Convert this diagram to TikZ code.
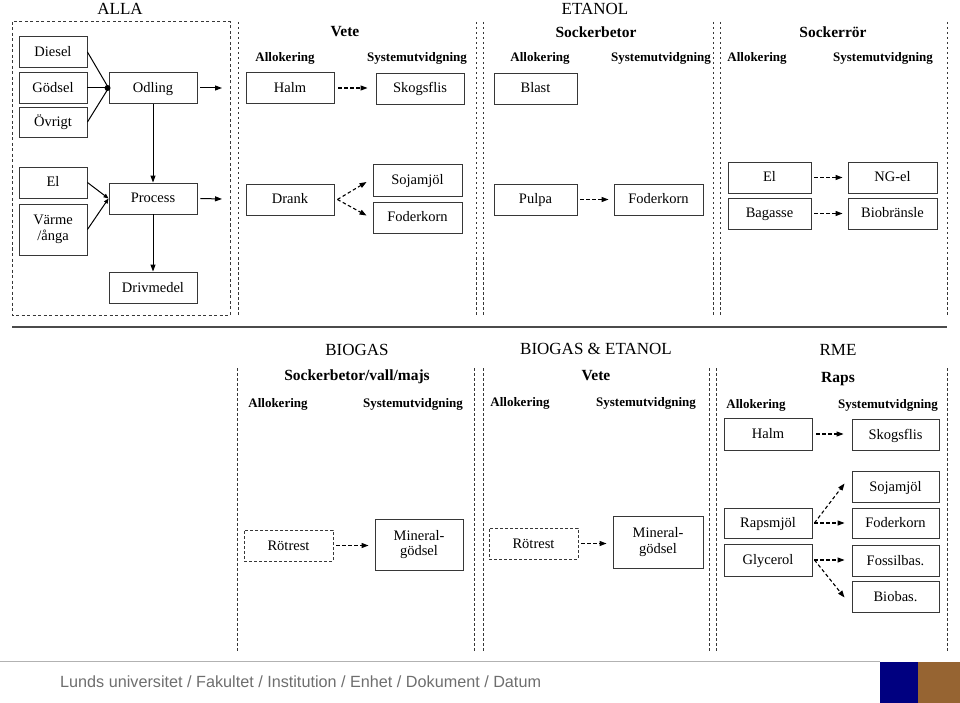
\documentclass[tikz,border=0pt]{standalone}
\usepackage{fontspec}
\setmainfont{Liberation Serif}
\newfontfamily\footfont{Liberation Sans}
\usetikzlibrary{arrows.meta}
\definecolor{linegray}{RGB}{55,55,55}
\definecolor{lunavy}{RGB}{0,0,128}
\definecolor{lubrown}{RGB}{150,100,50}
\definecolor{footgray}{RGB}{110,110,110}
\tikzset{
  mbx/.style={draw=linegray, line width=0.9pt, inner sep=0pt, align=center,
    font=\fontsize{14.5}{15.5}\selectfont, minimum height=31pt},
  bx/.style={mbx, text height=11pt, text depth=2pt},
  dbx/.style={bx, dash pattern=on 3pt off 2pt},
  hd/.style={font=\fontsize{17}{19}\selectfont, inner sep=0pt},
  bhd/.style={font=\fontsize{15.5}{17}\selectfont\bfseries, inner sep=0pt},
  sub/.style={font=\fontsize{13}{15}\selectfont\bfseries, inner sep=0pt},
  sep/.style={draw=linegray, line width=1pt, dash pattern=on 2.5pt off 2.5pt},
  arr/.style={draw=black, line width=1pt, -{Triangle[length=7pt,width=5pt]}},
  darr/.style={arr, line width=1.1pt, dash pattern=on 3.5pt off 2.5pt},
}
\begin{document}
\begin{tikzpicture}[x=1pt,y=-1pt]
\useasboundingbox (0,0) rectangle (960,703);

% ---------- top section ----------
\node[hd] (alla) at (120,9) {ALLA};
\node[hd] (etanol) at (595,9) {ETANOL};
\draw[sep, dash pattern=on 3pt off 2.5pt] (12,22) rectangle (230,315);
\foreach \x in {238,476,483,713,720,947} \draw[sep] (\x,22) -- (\x,315);

\node[bhd] (vete1) at (345,32) {Vete};
\node[bhd] (sbet1) at (596,32) {Sockerbetor};
\node[bhd] (sror) at (833,32) {Sockerrör};
\node[sub] (a1) at (285,58) {Allokering};
\node[sub] (s1) at (417,58) {Systemutvidgning};
\node[sub] (a2) at (540,58) {Allokering};
\node[sub] (s2) at (661,58) {Systemutvidgning};
\node[sub] (a3) at (757,58) {Allokering};
\node[sub] (s3) at (883,58) {Systemutvidgning};

% ALLA
\node[bx, minimum width=68pt] (diesel) at (53,52) {Diesel};
\node[bx, minimum width=68pt] (godsel) at (53,88) {Gödsel};
\node[bx, minimum width=68pt, minimum height=30pt] (ovrigt) at (53,122) {Övrigt};
\node[bx, minimum width=88pt] (odling) at (153,88) {Odling};
\node[bx, minimum width=68pt] (el1) at (53,182.5) {El};
\node[mbx, minimum width=68pt, minimum height=51pt] (varme) at (53,229.5) {Värme\\/ånga};
\node[bx, minimum width=88pt] (process) at (153,198.5) {Process};
\node[bx, minimum width=88pt] (drivmedel) at (153,287.5) {Drivmedel};
\coordinate (oend) at (222,88);
\coordinate (pend) at (222,199);

\draw[line width=1pt] (diesel.east) -- (odling.west);
\draw[line width=1pt] (godsel.east) -- (odling.west);
\draw[line width=1pt] (ovrigt.east) -- (odling.west);
\fill ([xshift=-1pt]odling.west) circle (3pt);
\draw[arr] ([xshift=3pt]odling.east) -- (oend);
\draw[arr] (odling.south) -- (process.north);
\draw[arr, -{Triangle[length=5pt,width=4pt]}] (el1.east) -- (process.west);
\draw[arr, -{Triangle[length=5pt,width=4pt]}] (varme.east) -- (process.west);
\draw[arr] ([xshift=3pt]process.east) -- (pend);
\draw[arr] (process.south) -- (drivmedel.north);

% Vete
\node[bx, minimum width=88pt] (halm1) at (290,88) {Halm};
\node[bx, minimum width=88pt] (skog1) at (420,88.5) {Skogsflis};
\node[bx, minimum width=88pt] (drank) at (290,199.5) {Drank};
\node[bx, minimum width=89pt, minimum height=32pt] (soja1) at (417.5,180) {Sojamjöl};
\node[bx, minimum width=89pt] (foder1) at (417.5,217.5) {Foderkorn};
\draw[darr] ([xshift=4pt]halm1.east) -- ([xshift=-8pt]halm1.east-|skog1.west);
\draw[darr] ([xshift=3pt]drank.east) -- ([xshift=-6pt,yshift=-2pt]soja1.west);
\draw[darr] ([xshift=3pt]drank.east) -- ([xshift=-6pt,yshift=2pt]foder1.west);

% Sockerbetor
\node[bx, minimum width=83pt] (blast) at (535.5,88.5) {Blast};
\node[bx, minimum width=83pt] (pulpa) at (535.5,199.5) {Pulpa};
\node[bx, minimum width=89pt] (foder2) at (658.5,199.5) {Foderkorn};
\draw[darr] ([xshift=3pt]pulpa.east) -- ([xshift=-5pt]foder2.west);

% Sockerror
\node[bx, minimum width=83pt] (el2) at (769.5,177.5) {El};
\node[bx, minimum width=89pt] (ngel) at (892.5,177.5) {NG-el};
\node[bx, minimum width=83pt] (bagasse) at (769.5,213.5) {Bagasse};
\node[bx, minimum width=89pt] (biobr) at (892.5,213.5) {Biobränsle};
\draw[darr] ([xshift=3pt]el2.east) -- ([xshift=-5pt]ngel.west);
\draw[darr] ([xshift=3pt]bagasse.east) -- ([xshift=-5pt]biobr.west);

% separator
\draw[draw=linegray!90, line width=1.5pt] (12,327) -- (947,327);

% ---------- bottom section ----------
\node[hd] (biogas) at (357,350) {BIOGAS};
\node[hd] (bioet) at (596,349) {BIOGAS \& ETANOL};
\node[hd] (rme) at (838,350) {RME};
\foreach \x in {237,474,483,709,716,947} \draw[sep] (\x,368) -- (\x,652);

\node[bhd] (sbvm) at (357,377) {Sockerbetor/vall/majs};
\node[bhd] (vete2) at (596,376) {Vete};
\node[bhd] (raps) at (838,379) {Raps};
\node[sub] (a4) at (278,404) {Allokering};
\node[sub] (s4) at (413,404) {Systemutvidgning};
\node[sub] (a5) at (520,403) {Allokering};
\node[sub] (s5) at (646,403) {Systemutvidgning};
\node[sub] (a6) at (756,405) {Allokering};
\node[sub] (s6) at (888,405) {Systemutvidgning};

\node[dbx, minimum width=89pt] (rot1) at (288.5,545.5) {Rötrest};
\node[mbx, minimum width=88pt, minimum height=51pt] (min1) at (419,544.5) {Mineral-\\gödsel};
\node[dbx, minimum width=89pt] (rot2) at (533.5,543.5) {Rötrest};
\node[mbx, minimum width=90pt, minimum height=52pt] (min2) at (658,542) {Mineral-\\gödsel};
\draw[darr] ([xshift=3pt]rot1.east) -- ([xshift=-6pt]rot1.east-|min1.west);
\draw[darr] ([xshift=3pt]rot2.east) -- ([xshift=-6pt]rot2.east-|min2.west);

\node[bx, minimum width=88pt, minimum height=32pt] (halm2) at (768,434) {Halm};
\node[bx, minimum width=87pt] (skog2) at (895.5,434.5) {Skogsflis};
\node[bx, minimum width=87pt] (soja2) at (895.5,486.5) {Sojamjöl};
\node[bx, minimum width=87pt, minimum height=30pt] (foder3) at (895.5,523) {Foderkorn};
\node[bx, minimum width=87pt] (fossil) at (895.5,560.5) {Fossilbas.};
\node[bx, minimum width=87pt] (biobas) at (895.5,596.5) {Biobas.};
\node[bx, minimum width=88pt, minimum height=30pt] (raps2) at (768,523) {Rapsmjöl};
\node[bx, minimum width=88pt, minimum height=32pt] (glyc) at (768,560) {Glycerol};
\draw[darr] ([xshift=4pt]halm2.east) -- ([xshift=-8pt]halm2.east-|skog2.west);
\draw[darr] ([xshift=2pt]raps2.east) -- ([xshift=-7pt,yshift=3pt]soja2.west);
\draw[darr] ([xshift=2pt]raps2.east) -- ([xshift=-7pt]foder3.west);
\draw[darr] ([xshift=2pt]glyc.east) -- ([xshift=-7pt]glyc.east-|fossil.west);
\draw[darr] ([xshift=2pt]glyc.east) -- ([xshift=-7pt,yshift=-1pt]biobas.west);

% ---------- footer ----------
\draw[draw=gray!60, line width=1pt] (0,661) -- (880,661);
\fill[lunavy] (880,662) rectangle (918,703);
\fill[lubrown] (918,662) rectangle (960,703);
\node[anchor=west, inner sep=0pt, text=footgray, font=\footfont\fontsize{16.2}{18}\selectfont] (foot) at (60,682) {Lunds universitet / Fakultet / Institution / Enhet / Dokument / Datum};
\end{tikzpicture}
\end{document}
